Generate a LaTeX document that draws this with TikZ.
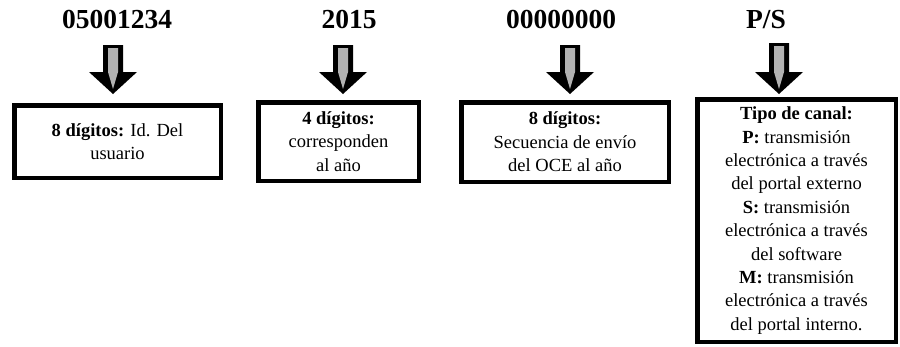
\documentclass[tikz,border=0pt]{standalone}
\usepackage{fontspec}
\setmainfont{Liberation Serif}
\usetikzlibrary{calc}
% #1 = shaft top coordinate, #2 = tip coordinate
\newcommand\blkarrow[2]{%
  \fill[blkout] ($(#1)+(-10,0)$) -- ($(#1)+(10,0)$) -- ($(#2)+(10,-22)$) -- ($(#2)+(24,-22)$)
    -- (#2) -- ($(#2)+(-24,-22)$) -- ($(#2)+(-10,-22)$) -- cycle;
  \fill[blkin] ($(#1)+(-5,3)$) -- ($(#1)+(5,3)$) -- ($(#2)+(5,-22)$) -- ($(#2)+(0,-5)$)
    -- ($(#2)+(-5,-22)$) -- cycle;}
\begin{document}
\begin{tikzpicture}[x=1pt,y=-1pt,
  ttl/.style={font=\fontsize{27.5}{30}\selectfont\bfseries, inner sep=0pt, anchor=base},
  infobox/.style={draw=black, line width=4.5pt, align=center, inner sep=0pt,
    font=\fontsize{18.5}{23.4}\selectfont},
  blkout/.style={fill=black},
  blkin/.style={fill=gray!60}]
\useasboundingbox (0,0) rectangle (900,346);
% titles
\node[ttl] (t1) at (117,28) {05001234};
\node[ttl] (t2) at (349,28) {2015};
\node[ttl] (t3) at (561,28) {00000000};
\node[ttl] (t4) at (766,28) {P/S};
% boxes
\node[infobox, minimum width=206.5, minimum height=72.5] (b1) at (117.5,141.5)
  {\textbf{8 dígitos:} Id. Del\\usuario};
\node[infobox, minimum width=160.5, minimum height=78.5] (b2) at (338.5,141.5)
  {\textbf{4 dígitos:}\\corresponden\\al año};
\node[infobox, minimum width=207.5, minimum height=79.5] (b3) at (565,142)
  {\textbf{8 dígitos:}\\Secuencia de envío\\del OCE al año};
\node[infobox, minimum width=198.5, minimum height=242.5] (b4) at (796.5,220.5)
  {\textbf{Tipo de canal:}\\\textbf{P:} transmisión\\electrónica a través\\del portal externo\\
   \textbf{S:} transmisión\\electrónica a través\\del software\\
   \textbf{M:} transmisión\\electrónica a través\\del portal interno.};
% arrows
\coordinate (a1s) at (113,45); \coordinate (a1e) at (113,94);
\coordinate (a2s) at (343,45); \coordinate (a2e) at (343,94);
\coordinate (a3s) at (570,45); \coordinate (a3e) at (570,94);
\coordinate (a4s) at (779,43); \coordinate (a4e) at (779,94);
\blkarrow{a1s}{a1e}
\blkarrow{a2s}{a2e}
\blkarrow{a3s}{a3e}
\blkarrow{a4s}{a4e}
\end{tikzpicture}
\end{document}
